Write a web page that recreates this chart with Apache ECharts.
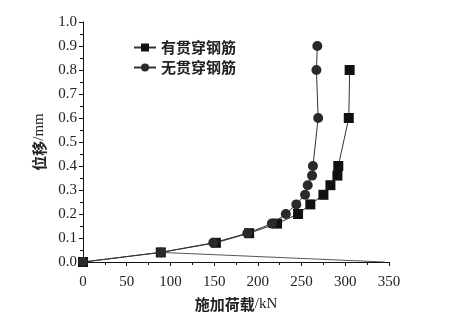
<!DOCTYPE html>
<html>
<head>
<meta charset="utf-8">
<script src="https://cdn.jsdelivr.net/npm/echarts@6/dist/echarts.min.js"></script>
<style>
  html, body { margin: 0; padding: 0; background: #fff; }
  #chart-container { width: 466px; height: 320px; }
</style>
</head>
<body>
<div id="chart-container"></div>
<script>
// load (kN), displacement (mm)
var withBarLoad = [0, 89, 152, 190, 222, 246, 260, 275, 283, 291, 292, 304, 305];
var withBarDisp = [0, 0.04, 0.08, 0.12, 0.16, 0.20, 0.24, 0.28, 0.32, 0.36, 0.40, 0.60, 0.80];
var noBarLoad = [0, 89, 149, 188, 216, 232, 244, 254, 257, 262, 263, 269, 267, 268];
var noBarDisp = [0, 0.04, 0.08, 0.12, 0.16, 0.20, 0.24, 0.28, 0.32, 0.36, 0.40, 0.60, 0.80, 0.90];
// stray unloading line in the original figure
var strayLoad = [89, 345];
var strayDisp = [0.04, 0];

var seriesNames = ["有贯穿钢筋", "无贯穿钢筋"];

function pairs(xs, ys) {
  var out = [];
  for (var i = 0; i < xs.length; i++) out.push([xs[i], ys[i]]);
  return out;
}

var dom = document.getElementById("chart-container");
var myChart = echarts.init(dom, null, { renderer: "canvas" });

var serif = "Liberation Serif";
var cjk = "Noto Sans CJK SC";

var option = {
  animation: false,
  grid: { left: 83, right: 77, top: 22, bottom: 58 },
  legend: {
    orient: "vertical",
    left: 128,
    top: 35,
    itemWidth: 22,
    itemHeight: 10,
    itemGap: 5,
    data: seriesNames,
    textStyle: { fontFamily: cjk, fontSize: 15, fontWeight: "bold", color: "#222" }
  },
  xAxis: {
    type: "value",
    min: 0,
    max: 350,
    interval: 50,
    name: "{a|施加荷载}{b|/kN}",
    nameLocation: "middle",
    nameGap: 35,
    nameTextStyle: {
      rich: {
        a: { fontFamily: cjk, fontSize: 15, fontWeight: "bold", color: "#222" },
        b: { fontFamily: serif, fontSize: 15, color: "#222" }
      }
    },
    axisLine: { show: true, lineStyle: { color: "#111", width: 1 } },
    axisTick: { show: true, inside: false, length: 4, lineStyle: { color: "#111" } },
    minorTick: { show: true, splitNumber: 2, length: 3, lineStyle: { color: "#111" } },
    splitLine: { show: false },
    axisLabel: { fontFamily: serif, fontSize: 15, color: "#222", margin: 13 }
  },
  yAxis: {
    type: "value",
    min: 0,
    max: 1.0,
    interval: 0.1,
    name: "{a|位移}{b|/mm}",
    nameLocation: "middle",
    nameGap: 36,
    nameTextStyle: {
      rich: {
        a: { fontFamily: cjk, fontSize: 15, fontWeight: "bold", color: "#222" },
        b: { fontFamily: serif, fontSize: 15, color: "#222" }
      }
    },
    axisLine: { show: true, lineStyle: { color: "#111", width: 1 } },
    axisTick: { show: true, inside: false, length: 4, lineStyle: { color: "#111" } },
    minorTick: { show: true, splitNumber: 2, length: 3, lineStyle: { color: "#111" } },
    splitLine: { show: false },
    axisLabel: {
      fontFamily: serif, fontSize: 15, color: "#222", margin: 6,
      formatter: function (v) { return v.toFixed(1); }
    }
  },
  series: [
    {
      name: seriesNames[0],
      type: "line",
      data: pairs(withBarLoad, withBarDisp),
      symbol: "rect",
      symbolSize: 10,
      itemStyle: { color: "#111" },
      lineStyle: { color: "#333", width: 1 },
      z: 3
    },
    {
      name: seriesNames[1],
      type: "line",
      data: pairs(noBarLoad, noBarDisp),
      symbol: "circle",
      symbolSize: 10,
      itemStyle: { color: "#2a2a2a" },
      lineStyle: { color: "#333", width: 1 },
      z: 4
    },
    {
      name: "stray",
      type: "line",
      data: pairs(strayLoad, strayDisp),
      symbol: "none",
      lineStyle: { color: "#555", width: 1 },
      silent: true,
      z: 2
    }
  ]
};

myChart.setOption(option);
window.addEventListener("resize", myChart.resize);
</script>
</body>
</html>
